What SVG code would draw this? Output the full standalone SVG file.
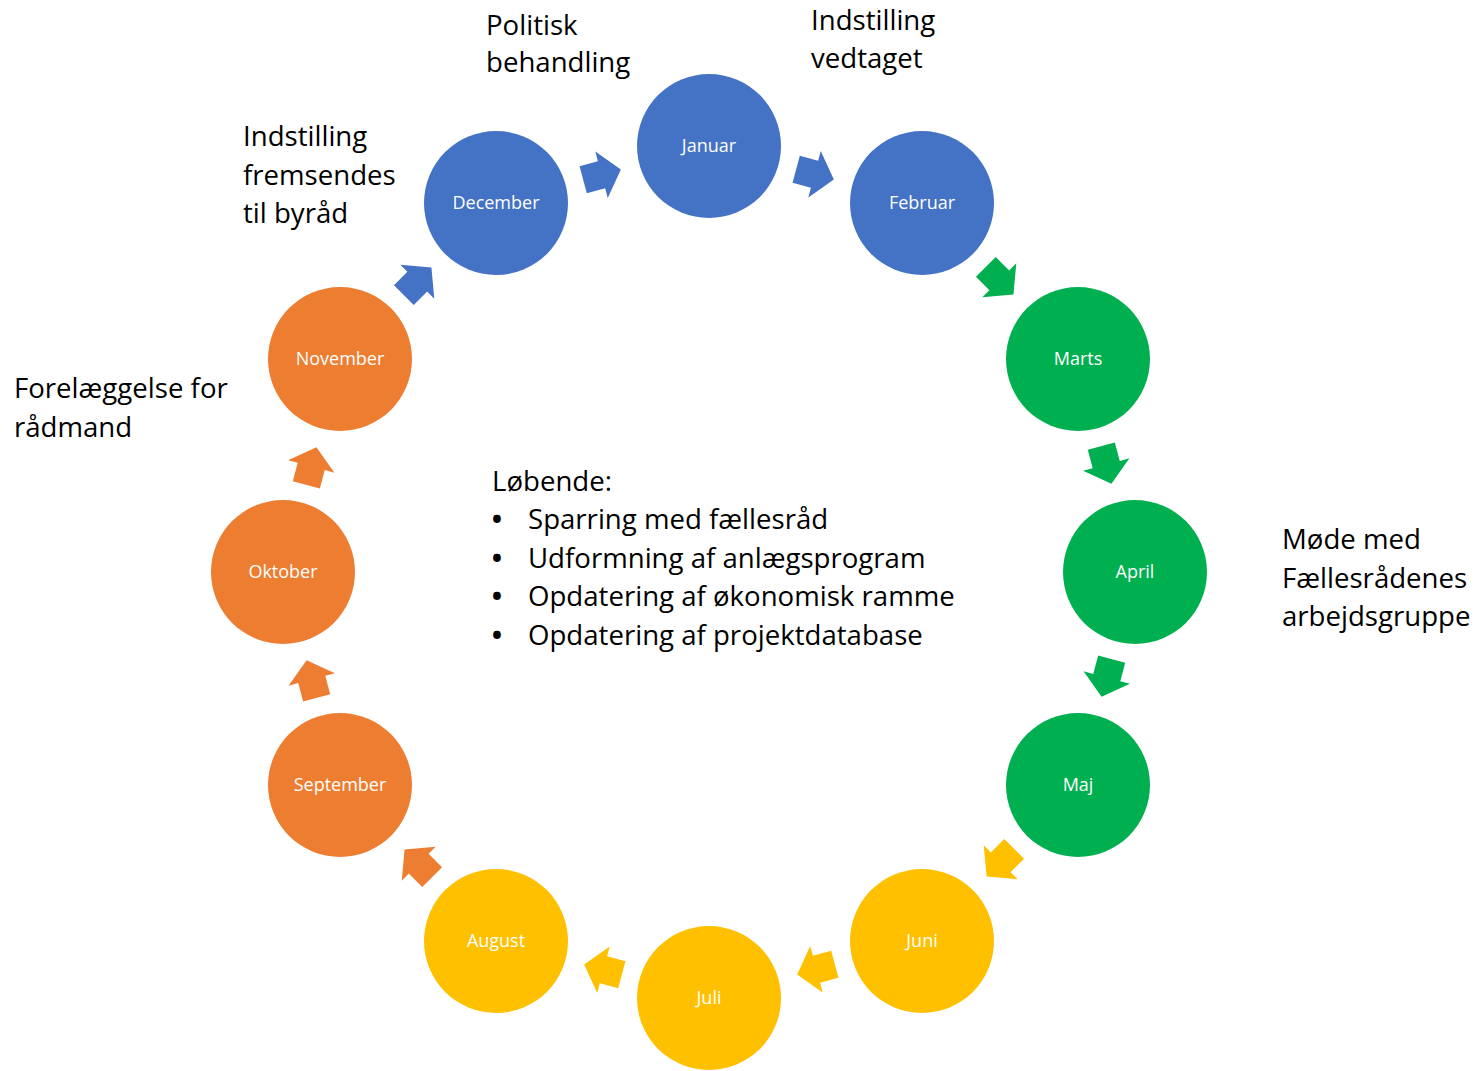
<svg xmlns="http://www.w3.org/2000/svg" xmlns:xlink="http://www.w3.org/1999/xlink" width="1483" height="1071" viewBox="0 0 1483 1071">
<style>
.lbl{font-family:"Open Sans","Noto Sans",sans-serif;font-size:18px;fill:#ffffff;text-anchor:middle}
.note{font-family:"Open Sans","Noto Sans",sans-serif;font-size:27.6px;fill:#000000}
.bul{font-family:"Open Sans","Noto Sans",sans-serif;font-size:27.6px;font-weight:bold;fill:#000000;text-anchor:middle}
.blue{fill:#4472C4}.green{fill:#00B050}.yellow{fill:#FFC000}.orange{fill:#ED7D31}
</style>
<defs>
<path id="arr" d="M-20,-14 L-1,-14 L-1,-24 L19,0 L-1,24 L-1,14 L-20,14 Z"/>
</defs>
<rect width="1483" height="1071" fill="#ffffff"/>
<g id="connectors">
<use xlink:href="#arr" href="#arr" class="blue" transform="translate(815.5,174.5) rotate(15)"/>
<use xlink:href="#arr" href="#arr" class="green" transform="translate(1000,281) rotate(45)"/>
<use xlink:href="#arr" href="#arr" class="green" transform="translate(1106.5,465.5) rotate(75)"/>
<use xlink:href="#arr" href="#arr" class="green" transform="translate(1106.5,678.5) rotate(105)"/>
<use xlink:href="#arr" href="#arr" class="yellow" transform="translate(1000,863) rotate(135)"/>
<use xlink:href="#arr" href="#arr" class="yellow" transform="translate(815.5,969.5) rotate(165)"/>
<use xlink:href="#arr" href="#arr" class="yellow" transform="translate(602.5,969.5) rotate(195)"/>
<use xlink:href="#arr" href="#arr" class="orange" transform="translate(418,863) rotate(225)"/>
<use xlink:href="#arr" href="#arr" class="orange" transform="translate(311.5,678.5) rotate(255)"/>
<use xlink:href="#arr" href="#arr" class="orange" transform="translate(311.5,465.5) rotate(285)"/>
<use xlink:href="#arr" href="#arr" class="blue" transform="translate(418,281) rotate(315)"/>
<use xlink:href="#arr" href="#arr" class="blue" transform="translate(602.5,174.5) rotate(345)"/>
</g>
<g id="januar"><circle class="blue" cx="709" cy="146" r="72"/><text class="lbl" x="709" y="152">Januar</text></g>
<g id="februar"><circle class="blue" cx="922" cy="203" r="72"/><text class="lbl" x="922" y="209">Februar</text></g>
<g id="marts"><circle class="green" cx="1078" cy="359" r="72"/><text class="lbl" x="1078" y="365">Marts</text></g>
<g id="april"><circle class="green" cx="1135" cy="572" r="72"/><text class="lbl" x="1135" y="578">April</text></g>
<g id="maj"><circle class="green" cx="1078" cy="785" r="72"/><text class="lbl" x="1078" y="791">Maj</text></g>
<g id="juni"><circle class="yellow" cx="922" cy="941" r="72"/><text class="lbl" x="922" y="947">Juni</text></g>
<g id="juli"><circle class="yellow" cx="709" cy="998" r="72"/><text class="lbl" x="709" y="1004">Juli</text></g>
<g id="august"><circle class="yellow" cx="496" cy="941" r="72"/><text class="lbl" x="496" y="947">August</text></g>
<g id="september"><circle class="orange" cx="340" cy="785" r="72"/><text class="lbl" x="340" y="791">September</text></g>
<g id="oktober"><circle class="orange" cx="283" cy="572" r="72"/><text class="lbl" x="283" y="578">Oktober</text></g>
<g id="november"><circle class="orange" cx="340" cy="359" r="72"/><text class="lbl" x="340" y="365">November</text></g>
<g id="december"><circle class="blue" cx="496" cy="203" r="72"/><text class="lbl" x="496" y="209">December</text></g>
<g id="notes">
<text class="note" x="486" y="35">Politisk</text>
<text class="note" x="486" y="72">behandling</text>
<text class="note" x="811" y="30">Indstilling</text>
<text class="note" x="811" y="68">vedtaget</text>
<text class="note" x="243" y="146">Indstilling</text>
<text class="note" x="243" y="185">fremsendes</text>
<text class="note" x="243" y="223">til byråd</text>
<text class="note" x="14" y="398">Forelæggelse for</text>
<text class="note" x="14" y="437">rådmand</text>
<text class="note" x="1282" y="549">Møde med</text>
<text class="note" x="1282" y="588">Fællesrådenes</text>
<text class="note" x="1282" y="626">arbejdsgruppe</text>
<text class="note" x="492" y="491">Løbende:</text>
<text class="bul" x="497" y="529">•</text><text class="note" x="528" y="529">Sparring med fællesråd</text>
<text class="bul" x="497" y="568">•</text><text class="note" x="528" y="568">Udformning af anlægsprogram</text>
<text class="bul" x="497" y="606">•</text><text class="note" x="528" y="606">Opdatering af økonomisk ramme</text>
<text class="bul" x="497" y="645">•</text><text class="note" x="528" y="645">Opdatering af projektdatabase</text>
</g>
</svg>
